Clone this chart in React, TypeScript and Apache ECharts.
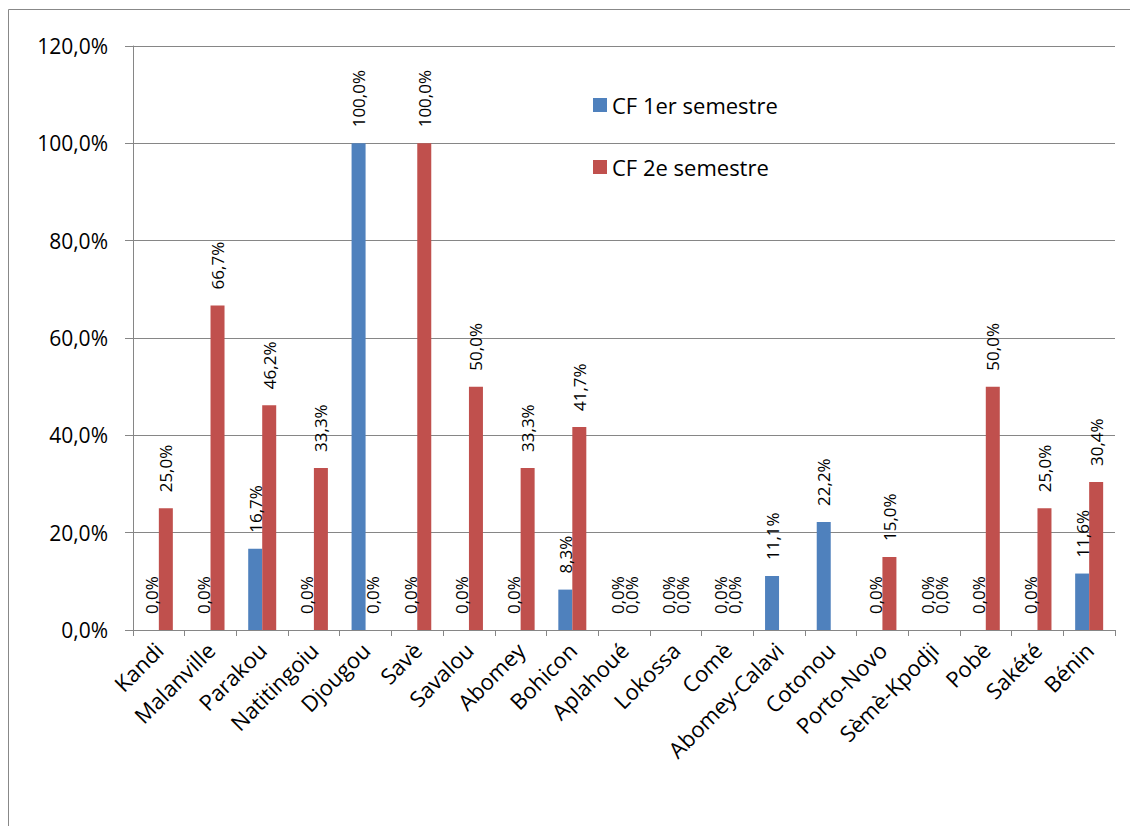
import React, { useEffect, useRef } from "react";
import * as echarts from "echarts";

const categories = [
  "Kandi", "Malanville", "Parakou", "Natitingoiu", "Djougou", "Savè", "Savalou",
  "Abomey", "Bohicon", "Aplahoué", "Lokossa", "Comè", "Abomey-Calavi", "Cotonou",
  "Porto-Novo", "Sèmè-Kpodji", "Pobè", "Sakété", "Bénin",
];
const cf1 = [0, 0, 16.7, 0, 100, 0, 0, 0, 8.3, 0, 0, 0, 11.1, 22.2, 0, 0, 0, 0, 11.6];
const cf2 = [25, 66.7, 46.2, 33.3, 0, 100, 50, 33.3, 41.7, 0, 0, 0, null, null, 15, 0, 50, 25, 30.4];
const seriesNames = ["CF 1er semestre", "CF 2e semestre"];
const yTicks = { min: 0, max: 120, interval: 20 };

const FONT = "'Open Sans', sans-serif";
const fmt = (v: number) => `${v.toFixed(1).replace(".", ",")}%`;

export default function App() {
  const ref = useRef<HTMLDivElement>(null);
  useEffect(() => {
    if (!ref.current) return;
    const chart = echarts.init(ref.current, undefined, { renderer: "svg" });
    const label = {
      show: true,
      position: "top",
      rotate: 90,
      align: "left",
      verticalAlign: "middle",
      distance: 16,
      fontSize: 17,
      color: "#000",
      fontFamily: FONT,
      formatter: (p: any) => fmt(p.value),
    };
    chart.setOption({
      animation: false,
      backgroundColor: "#fff",
      textStyle: { fontFamily: FONT },
      graphic: [
        {
          type: "rect",
          shape: { x: 8.5, y: 9.5, width: 1140, height: 840 },
          style: { fill: "none", stroke: "#888", lineWidth: 1 },
          silent: true,
        },
      ],
      legend: {
        orient: "vertical",
        left: 588,
        top: 89,
        itemWidth: 14,
        itemHeight: 14,
        itemGap: 40,
        icon: "rect",
        textStyle: { fontSize: 22, color: "#000", fontFamily: FONT },
        data: seriesNames,
      },
      grid: { left: 133, right: 15, top: 46, bottom: 196, containLabel: false },
      xAxis: {
        type: "category",
        data: categories,
        axisLine: { lineStyle: { color: "#868686", width: 1 } },
        axisTick: { show: true, length: 6, lineStyle: { color: "#868686" } },
        axisLabel: { interval: 0, rotate: 45, fontSize: 22, color: "#000", margin: 16, fontFamily: FONT },
      },
      yAxis: {
        type: "value",
        min: yTicks.min,
        max: yTicks.max,
        interval: yTicks.interval,
        axisLine: { show: true, lineStyle: { color: "#868686", width: 1 } },
        axisTick: { show: true, length: 8, lineStyle: { color: "#868686" } },
        splitLine: { lineStyle: { color: "#868686", width: 1 } },
        axisLabel: { fontSize: 21, color: "#000", margin: 25, fontFamily: FONT, formatter: (v: number) => fmt(v) },
      },
      series: [
        {
          name: seriesNames[0],
          type: "bar",
          data: cf1,
          barWidth: 14,
          barGap: "0%",
          itemStyle: { color: "#4F81BD" },
          label,
        },
        {
          name: seriesNames[1],
          type: "bar",
          data: cf2,
          barWidth: 14,
          barGap: "0%",
          itemStyle: { color: "#C0504D" },
          label,
        },
      ],
    });
    return () => chart.dispose();
  }, []);
  return (
    <div
      ref={ref}
      style={{ position: "fixed", left: 0, top: 0, width: 1130, height: 826, background: "#fff" }}
    />
  );
}
